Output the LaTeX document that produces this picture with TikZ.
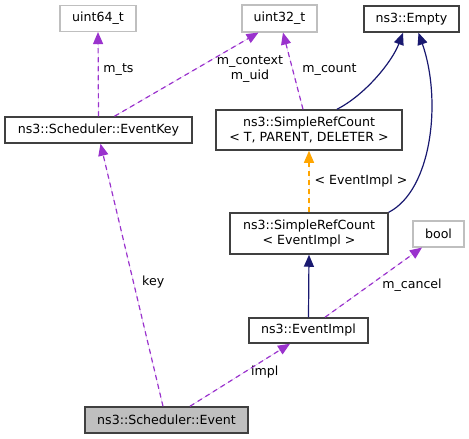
\documentclass[tikz,border=0pt]{standalone}
\usepackage{fontspec}
\setmainfont{DejaVu Sans}
\usetikzlibrary{arrows.meta}
\definecolor{dxpurple}{HTML}{9A32CD}
\definecolor{dxnavy}{HTML}{191970}
\definecolor{dxorange}{HTML}{FFA500}
\definecolor{dxgray}{HTML}{BFBFBF}
\definecolor{dxedge}{HTML}{404040}
\tikzset{
  box/.style={draw=dxedge, line width=1.5pt, rectangle, inner sep=0pt, align=center, font=\fontsize{12.6}{14.8}\selectfont},
  greybox/.style={box, draw=dxgray, line width=1.1pt},
  lbl/.style={inner sep=0pt, align=center, font=\fontsize{12.6}{14.2}\selectfont},
  tip/.style={-{Triangle[length=12pt,width=10pt]}},
  usage/.style={tip, draw=dxpurple, fill=dxpurple, dash pattern=on 5pt off 4pt, line width=1.2pt},
  inherit/.style={tip, draw=dxnavy, fill=dxnavy, line width=1.2pt},
  templ/.style={tip, draw=dxorange, fill=dxorange, dash pattern=on 5pt off 4pt, line width=1.2pt},
}
\begin{document}
\begin{tikzpicture}[x=1pt,y=-1pt]
\useasboundingbox (0,0) rectangle (469,439);
% nodes
\node[greybox, minimum width=76pt, minimum height=26pt] (u64) at (98,18.5) {uint64\_t};
\node[greybox, minimum width=75pt, minimum height=27pt] (u32) at (279.5,18.5) {uint32\_t};
\node[box, minimum width=95pt, minimum height=26pt] (empty) at (411.5,19) {ns3::Empty};
\node[box, minimum width=187pt, minimum height=26pt] (ek) at (98.5,130) {ns3::Scheduler::EventKey};
\node[box, minimum width=186pt, minimum height=40pt] (srt) at (309,130) {ns3::SimpleRefCount\\< T, PARENT, DELETER >};
\node[box, minimum width=158pt, minimum height=41pt] (sre) at (309,233.5) {ns3::SimpleRefCount\\< EventImpl >};
\node[greybox, minimum width=51pt, minimum height=26pt] (bool) at (438.5,234) {bool};
\node[box, minimum width=119pt, minimum height=25pt] (ei) at (308.5,330.5) {ns3::EventImpl};
\node[box, fill=dxgray, minimum width=163pt, minimum height=26pt] (ev) at (166.5,420) {ns3::Scheduler::Event};
% edges
\draw[usage] (ek.north) -- (u64.south);
\draw[usage] ([xshift=16pt]ek.north) -- ([xshift=-21pt]u32.south);
\draw[usage] ([xshift=-6pt]srt.north) -- ([xshift=3.5pt]u32.south);
\draw[inherit, fill=none] ([xshift=28pt]srt.north) .. controls (365,95) and (392,62) .. ([xshift=-8.5pt]empty.south);
\draw[inherit, fill=none] (sre.north east) .. controls (432,190) and (442,100) .. ([xshift=7pt]empty.south);
\draw[templ] (sre.north) -- (srt.south);
\draw[inherit] (ei.north) -- (sre.south);
\draw[usage] ([xshift=16.5pt]ei.north) -- ([xshift=-16.5pt]bool.south);
\draw[usage] ([xshift=23.5pt]ev.north) -- ([xshift=-18.5pt]ei.south);
\draw[usage] ([xshift=-3.5pt]ev.north) -- ([xshift=2pt]ek.south);
% labels
\node[lbl] (lts) at (118.5,70) {m\_ts};
\node[lbl] (lctx) at (250,69) {m\_context\\m\_uid};
\node[lbl] (lcnt) at (329.5,70) {m\_count};
\node[lbl] (limpl) at (361,181) {< EventImpl >};
\node[lbl] (lcan) at (412,285) {m\_cancel};
\node[lbl, anchor=mid west] (limp) at (251,373) {impl};
\node[lbl, anchor=mid west] (lkey) at (142,283) {key};
\end{tikzpicture}
\end{document}
